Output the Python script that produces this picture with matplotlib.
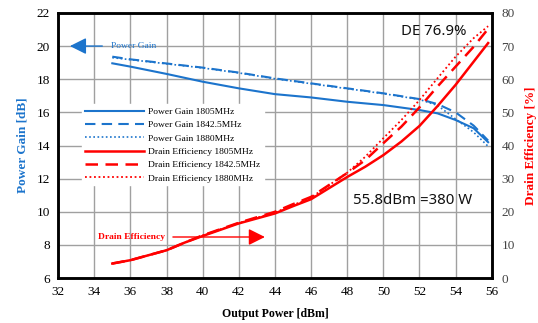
import matplotlib
matplotlib.use('Agg')
import matplotlib.pyplot as plt

# --- data ---
PG_X = [35, 36, 38, 40, 42, 44, 46, 48, 50, 52, 53, 54, 55, 55.8]
PG_1805 = [18.96, 18.76, 18.32, 17.85, 17.45, 17.1, 16.9, 16.64, 16.44, 16.14, 15.94, 15.54, 15.04, 14.2]
PG_1842 = [19.36, 19.2, 18.95, 18.7, 18.4, 18.05, 17.75, 17.45, 17.15, 16.8, 16.5, 16.0, 15.2, 14.3]
PG_1880 = [19.3, 19.18, 18.93, 18.68, 18.38, 18.03, 17.73, 17.43, 17.13, 16.78, 16.42, 15.6, 14.8, 13.95]

DE_X = [35, 36, 38, 39, 40, 42, 44, 45, 46, 48, 49, 50, 51, 52, 53, 54, 55, 55.8]
DE_1805 = [4.4, 5.4, 8.4, 10.7, 12.7, 16.5, 19.5, 21.7, 23.8, 30.5, 33.6, 37.1, 41.2, 45.9, 51.9, 58.3, 65.3, 70.9]
DE_1842 = [4.4, 5.4, 8.4, 10.7, 12.9, 16.7, 20.0, 22.3, 24.5, 31.7, 35.6, 40.7, 45.7, 51.5, 57.8, 63.8, 69.8, 75.2]
DE_1880 = [4.4, 5.4, 8.4, 10.7, 12.9, 16.6, 19.8, 22.0, 24.3, 31.8, 36.6, 42.2, 47.7, 53.7, 60.3, 66.8, 72.4, 76.0]

X_TICKS = list(range(32, 57, 2))
PG_TICKS = list(range(6, 23, 2))
DE_TICKS = list(range(0, 81, 10))

BLUE = '#1c74cc'
RED = '#ff0000'
SERIF = 'Liberation Serif'
SANS = 'Noto Sans'

fig = plt.figure(figsize=(5.38, 3.23), dpi=100)
ax = fig.add_axes([0.108, 0.139, 0.806, 0.821])
ax2 = ax.twinx()

# power gain (left axis)
l1, = ax.plot(PG_X, PG_1805, color=BLUE, lw=1.5, label='Power Gain 1805MHz')
l2, = ax.plot(PG_X, PG_1842, color=BLUE, lw=1.5, ls=(0, (5, 3)), label='Power Gain 1842.5MHz')
l3, = ax.plot(PG_X, PG_1880, color=BLUE, lw=1.2, ls=(0, (1, 1.5)), label='Power Gain 1880MHz')

# drain efficiency (right axis)
l4, = ax2.plot(DE_X, DE_1805, color=RED, lw=1.8, label='Drain Efficiency 1805MHz')
l5, = ax2.plot(DE_X, DE_1842, color=RED, lw=1.8, ls=(0, (5, 3)), label='Drain Efficiency 1842.5MHz')
l6, = ax2.plot(DE_X, DE_1880, color=RED, lw=1.3, ls=(0, (1, 1.5)), label='Drain Efficiency 1880MHz')

ax.set_xlim(32, 56)
ax.set_ylim(6, 22)
ax2.set_ylim(0, 80)
ax.set_xticks(X_TICKS)
ax.set_yticks(PG_TICKS)
ax2.set_yticks(DE_TICKS)
ax.grid(True, color='#a0a0a0', lw=1.0)
ax.set_axisbelow(True)

for a in (ax, ax2):
    for s in a.spines.values():
        s.set_linewidth(1.8)
        s.set_color('black')
ax.tick_params(length=0, pad=6, labelsize=9.5)
ax2.tick_params(length=0, pad=7, labelsize=9.5, labelcolor='#444444')
for lab in ax.get_xticklabels() + ax.get_yticklabels() + ax2.get_yticklabels():
    lab.set_fontfamily(SERIF)

ax.set_xlabel('Output Power [dBm]', fontfamily=SERIF, fontweight='bold', fontsize=8.5, labelpad=7)
ax.set_ylabel('Power Gain [dB]', fontfamily=SERIF, fontweight='bold', fontsize=9.5, color=BLUE, labelpad=6)
ax2.set_ylabel('Drain Efficiency [%]', fontfamily=SERIF, fontweight='bold', fontsize=9.5, color=RED, labelpad=7)

# annotations
ax.annotate('', xy=(32.5, 20), xytext=(34.6, 20),
            arrowprops=dict(arrowstyle='-|>,head_length=1.0,head_width=0.5', color=BLUE, lw=1.0))
ax.text(34.9, 20, 'Power Gain', color=BLUE, fontfamily=SERIF, fontsize=6.8, va='center')
ax2.annotate('', xy=(43.6, 12.4), xytext=(38.2, 12.4),
             arrowprops=dict(arrowstyle='-|>,head_length=1.0,head_width=0.5', color=RED, lw=1.0))
ax2.text(37.9, 12.4, 'Drain Efficiency', color=RED, fontfamily=SERIF, fontsize=6.8,
         fontweight='bold', va='center', ha='right')
ax2.text(51.0, 74.5, 'DE 76.9%', fontfamily=SANS, fontsize=10.8, va='center', color='#111111')
ax2.text(48.3, 23.3, '55.8dBm =380 W', fontfamily=SANS, fontsize=10.8, va='center', color='#111111')

leg = ax2.legend(handles=[l1, l2, l3, l4, l5, l6], loc='upper left', bbox_to_anchor=(0.056, 0.655),
                 borderaxespad=0, frameon=True, fancybox=False, framealpha=1, edgecolor='white',
                 prop={'family': SERIF, 'size': 6.8}, handlelength=6.2, handletextpad=0.5,
                 labelspacing=0.5, borderpad=0.3)

fig.savefig('out.png', dpi=100)
